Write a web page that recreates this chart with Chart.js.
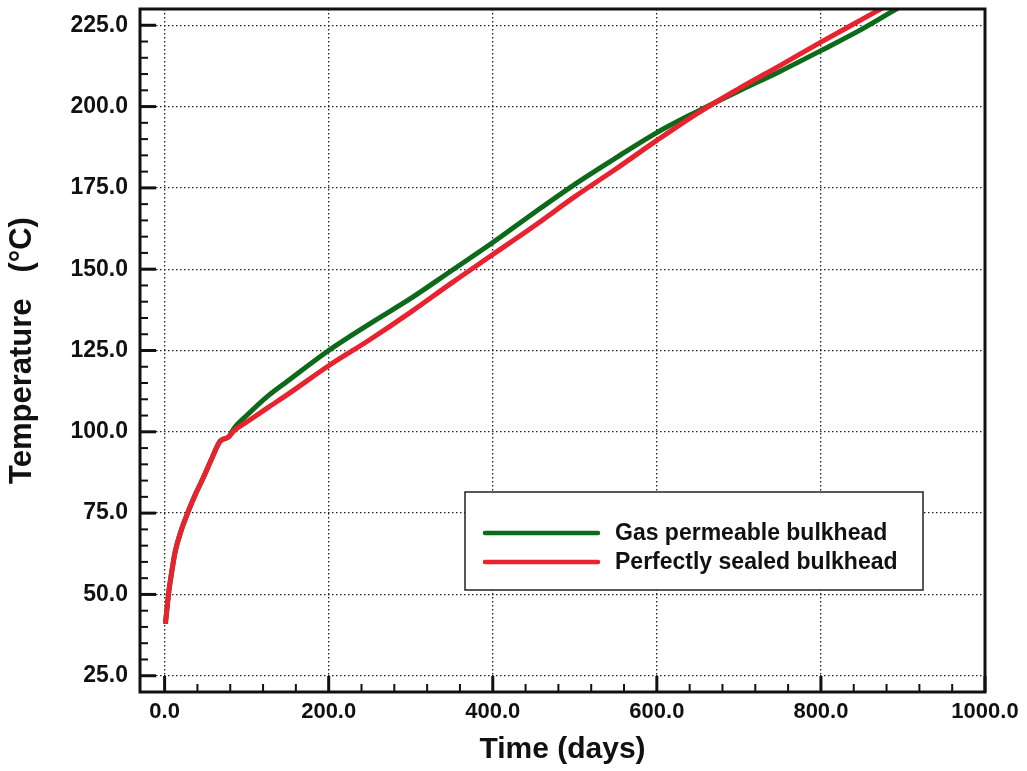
<!DOCTYPE html>
<html>
<head>
<meta charset="utf-8">
<title>Temperature vs time</title>
<script src="https://cdn.jsdelivr.net/npm/chart.js@4.4.1/dist/chart.umd.min.js"></script>
<style>
  html, body { margin: 0; padding: 0; background: #fff; }
  #wrap { position: relative; width: 1027px; height: 771px; }
</style>
</head>
<body>
<div id="wrap"><canvas id="chart" width="1027" height="771"></canvas></div>
<script>
// time axis (days) shared by both runs
const days = [1, 3, 5, 9, 13, 20, 29, 38, 47, 57, 68, 78, 85, 100, 125, 150, 200, 250, 300,
  350, 400, 450, 500, 550, 600, 650, 700, 750, 800, 850, 900];
const gasTemp = [41, 46, 50.6, 57.5, 63.3, 69.5, 75.6, 81, 85.8, 91.5, 97.2, 98.4, 101.2, 105,
  110.8, 115.6, 125, 133.2, 141, 149.6, 158.2, 167.3, 176.1, 184.2, 192, 198.6, 204.8, 210.8,
  217.2, 223.8, 231.2];
const sealedTemp = [41, 46, 50.6, 57.5, 63.3, 69.5, 75.6, 81, 85.8, 91.5, 97.2, 98.4, 100.4, 103,
  107.3, 111.5, 120.3, 128.3, 136.8, 145.8, 154.5, 163.2, 172.3, 180.8, 189.6, 198, 205.5, 212.6,
  219.8, 226.8, 233.8];

const seriesNames = ["Gas permeable bulkhead", "Perfectly sealed bulkhead"];
const seriesColors = ["#0d6a1a", "#e8232f"];

const xTicks = [0, 200, 400, 600, 800, 1000];
const yTicks = [25, 50, 75, 100, 125, 150, 175, 200, 225];
const xMinorStep = 40;
const yMinorStep = 5;

const FONT = "'Liberation Sans', Arial, Helvetica, sans-serif";

const toPoints = (xs, ys) => xs.map((d, i) => ({ x: d, y: ys[i] }));

// tick marks point inward, plus a closed frame round the plot
const frameTicks = {
  id: "frameTicks",
  afterDatasetsDraw(chart) {
    const { ctx, chartArea: a, scales: { x, y } } = chart;
    ctx.save();
    ctx.strokeStyle = "#111";
    ctx.lineCap = "butt";

    ctx.lineWidth = 2;
    for (let v = Math.ceil(x.min / xMinorStep) * xMinorStep; v <= x.max; v += xMinorStep) {
      if (xTicks.includes(v)) continue;
      const px = x.getPixelForValue(v);
      ctx.beginPath(); ctx.moveTo(px, a.bottom); ctx.lineTo(px, a.bottom - 8); ctx.stroke();
    }
    for (let v = Math.ceil(y.min / yMinorStep) * yMinorStep; v <= y.max; v += yMinorStep) {
      if (yTicks.includes(v)) continue;
      const py = y.getPixelForValue(v);
      ctx.beginPath(); ctx.moveTo(a.left, py); ctx.lineTo(a.left + 8, py); ctx.stroke();
    }

    ctx.lineWidth = 3;
    xTicks.forEach(v => {
      const px = x.getPixelForValue(v);
      ctx.beginPath(); ctx.moveTo(px, a.bottom); ctx.lineTo(px, a.bottom - 16); ctx.stroke();
    });
    yTicks.forEach(v => {
      const py = y.getPixelForValue(v);
      ctx.beginPath(); ctx.moveTo(a.left, py); ctx.lineTo(a.left + 16, py); ctx.stroke();
    });

    ctx.lineWidth = 3;
    ctx.strokeRect(a.left, a.top, a.right - a.left, a.bottom - a.top);
    ctx.restore();
  }
};

// boxed legend sitting inside the plot, lower right
const boxLegend = {
  id: "boxLegend",
  afterDraw(chart) {
    const { ctx, chartArea: a } = chart;
    const bx = a.left + 325, by = a.top + 483, bw = 458, bh = 98;
    ctx.save();
    ctx.fillStyle = "#fff";
    ctx.fillRect(bx, by, bw, bh);
    ctx.strokeStyle = "#222";
    ctx.lineWidth = 1.5;
    ctx.strokeRect(bx, by, bw, bh);
    ctx.font = "bold 23px " + FONT;
    ctx.textBaseline = "middle";
    ctx.fillStyle = "#111";
    chart.data.datasets.forEach((ds, i) => {
      const ly = by + 41 + i * 29;
      ctx.strokeStyle = ds.borderColor;
      ctx.lineWidth = 4.5;
      ctx.lineCap = "round";
      ctx.beginPath(); ctx.moveTo(bx + 20, ly); ctx.lineTo(bx + 133, ly); ctx.stroke();
      ctx.fillText(ds.label, bx + 150, ly + 1);
    });
    ctx.restore();
  }
};

const ctx = document.getElementById("chart").getContext("2d");
new Chart(ctx, {
  type: "line",
  data: {
    datasets: [
      {
        label: seriesNames[0],
        data: toPoints(days, gasTemp),
        borderColor: seriesColors[0],
        borderWidth: 5,
        pointRadius: 0,
        cubicInterpolationMode: "monotone",
        clip: 0,
        order: 1
      },
      {
        label: seriesNames[1],
        data: toPoints(days, sealedTemp),
        borderColor: seriesColors[1],
        borderWidth: 5,
        pointRadius: 0,
        cubicInterpolationMode: "monotone",
        clip: 0,
        order: 0
      }
    ]
  },
  options: {
    responsive: false,
    animation: false,
    devicePixelRatio: 1,
    layout: { padding: { top: 9, right: 42, left: 0, bottom: 0 } },
    plugins: {
      legend: { display: false },
      tooltip: { enabled: false }
    },
    scales: {
      x: {
        type: "linear",
        min: -30,
        max: 1000,
        afterBuildTicks: s => { s.ticks = xTicks.map(v => ({ value: v })); },
        afterFit: s => { s.height = 79; s.paddingLeft = 0; s.paddingRight = 0; },
        ticks: {
          callback: v => v.toFixed(1),
          font: { family: FONT, size: 22, weight: "bold" },
          color: "#111",
          padding: 7,
          maxRotation: 0,
          autoSkip: false
        },
        grid: {
          color: "#222",
          lineWidth: 1.3,
          drawTicks: false
        },
        border: { display: false, dash: [1.5, 2.5] },
        title: {
          display: true,
          text: "Time (days)",
          font: { family: FONT, size: 30, weight: "bold" },
          color: "#111",
          padding: { top: 0, bottom: 3 }
        }
      },
      y: {
        type: "linear",
        min: 20,
        max: 230,
        afterBuildTicks: s => { s.ticks = yTicks.map(v => ({ value: v })); },
        afterFit: s => { s.width = 140; s.paddingTop = 0; s.paddingBottom = 0; },
        ticks: {
          callback: v => v.toFixed(1),
          font: { family: FONT, size: 23, weight: "bold" },
          color: "#111",
          padding: 12,
          autoSkip: false
        },
        grid: {
          color: "#222",
          lineWidth: 1.3,
          drawTicks: false
        },
        border: { display: false, dash: [1.5, 2.5] },
        title: {
          display: true,
          text: "Temperature   (°C)",
          font: { family: FONT, size: 31, weight: "bold" },
          color: "#111",
          padding: { top: 4, bottom: 0 }
        }
      }
    }
  },
  plugins: [frameTicks, boxLegend]
});
</script>
</body>
</html>
